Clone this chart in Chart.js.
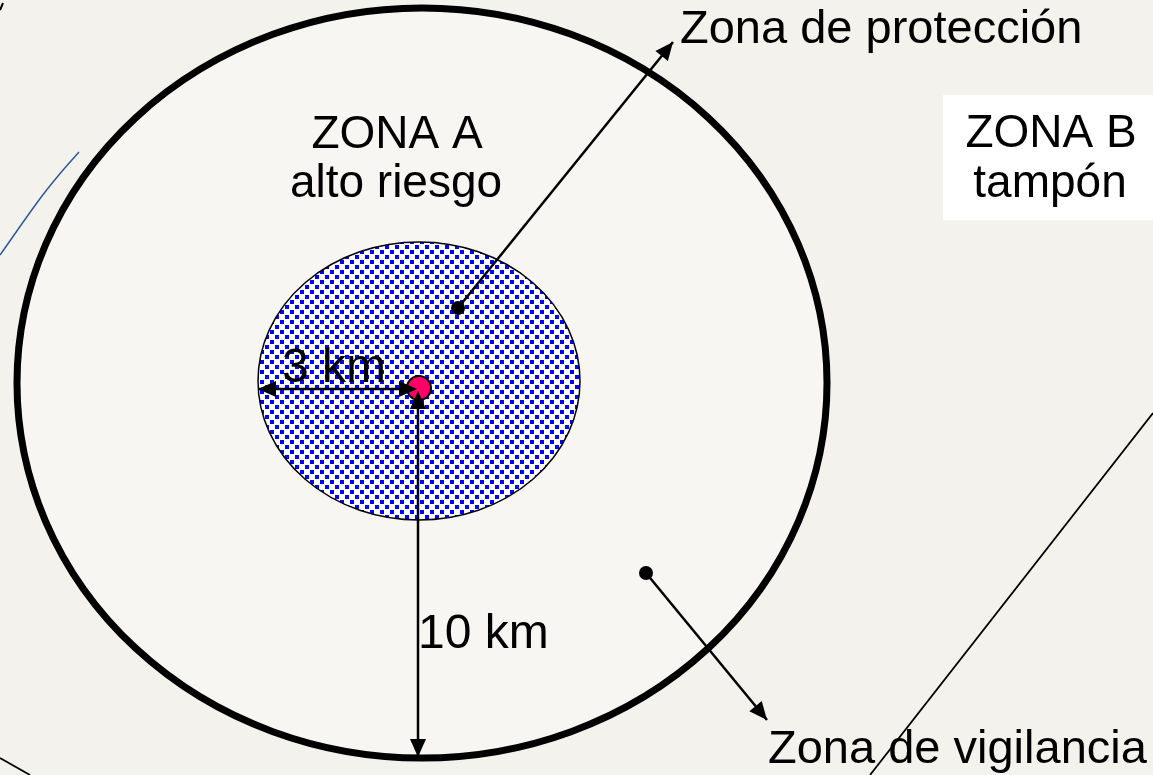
<!DOCTYPE html>
<html>
<head>
<meta charset="utf-8">
<script src="https://cdn.jsdelivr.net/npm/chart.js@4.4.1/dist/chart.umd.min.js"></script>
<style>
html,body{margin:0;padding:0;background:#f4f2ed;}
canvas{display:block;}
</style>
</head>
<body>
<canvas id="c" width="1153" height="775"></canvas>
<script>
// ---- data (diagram coordinates, y grows downward) ----
const zoneNames   = ['Zona de vigilancia', 'Zona de protección'];
const zoneCenterX = [422, 419];
const zoneCenterY = [383, 381];
const zoneRadiusX = [405, 161];
const zoneRadiusY = [375, 139];

const focusPoint  = [{x: 419, y: 388}];                 // foco (punto rojo)
const markerDots  = [{x: 458, y: 308}, {x: 646, y: 573}];

const arrowNames  = ['protección', 'vigilancia', '3 km', '10 km'];
const arrowFromX  = [458, 646, 417, 418];
const arrowFromY  = [308, 573, 389, 391];
const arrowToX    = [673, 767, 258, 418];
const arrowToY    = [42, 720, 389, 757];
const arrowBoth   = [false, false, true, true];

const guideLineA  = [{x: 870, y: 775}, {x: 1153, y: 413}];
const guideLineB  = [{x: 0, y: 758}, {x: 30, y: 775}];
const guideLineC  = [{x: 0, y: 10}, {x: 3, y: 3}];
const blueCurve   = [{x: 79, y: 152}, {x: 58, y: 176}, {x: 39, y: 200}, {x: 0, y: 255}];

const labelTexts  = ['Zona de protección', 'ZONA A', 'alto riesgo', 'ZONA B', 'tampón', '3 km', '10 km', 'Zona de vigilancia'];
const labelX      = [680, 397, 396, 1051, 1050, 282, 418, 768];
const labelY      = [43, 148, 197, 147, 197, 382, 648, 763];
const labelAlign  = ['left', 'center', 'center', 'center', 'center', 'left', 'left', 'left'];
const labelSize   = [47, 46, 46, 46, 46, 48, 48, 47];

// ---- chart ----
function makePattern(ctx){
  const t = document.createElement('canvas');
  t.width = 10; t.height = 10;
  const g = t.getContext('2d');
  g.fillStyle = '#ffffff'; g.fillRect(0,0,10,10);
  g.fillStyle = '#0000ff';
  g.fillRect(0,0,4,4);
  g.fillRect(5,5,4,4);
  return ctx.createPattern(t, 'repeat');
}

const arrowDatasets = arrowNames.map((n,i)=>({
  label: n,
  data: [{x: arrowFromX[i], y: arrowFromY[i]}, {x: arrowToX[i], y: arrowToY[i]}],
  showLine: true, borderColor: '#000', borderWidth: 2.5, pointRadius: 0, order: 5
}));

const diagram = {
  id: 'diagram',
  beforeDraw(chart){
    const c = chart.ctx;
    c.save(); c.fillStyle = '#f4f2ed'; c.fillRect(0,0,chart.width,chart.height); c.restore();
  },
  beforeDatasetsDraw(chart){
    const c = chart.ctx, xs = chart.scales.x, ys = chart.scales.y;
    c.save();
    // white box behind ZONA B
    c.fillStyle = '#ffffff';
    c.fillRect(xs.getPixelForValue(943), ys.getPixelForValue(95),
               xs.getPixelForValue(1153) - xs.getPixelForValue(943),
               ys.getPixelForValue(220) - ys.getPixelForValue(95));
    zoneNames.forEach((n,i)=>{
      const cx = xs.getPixelForValue(zoneCenterX[i]);
      const cy = ys.getPixelForValue(zoneCenterY[i]);
      const rx = Math.abs(xs.getPixelForValue(zoneCenterX[i] + zoneRadiusX[i]) - cx);
      const ry = Math.abs(ys.getPixelForValue(zoneCenterY[i] + zoneRadiusY[i]) - cy);
      c.beginPath();
      c.ellipse(cx, cy, rx, ry, 0, 0, Math.PI*2);
      if (i === 0) {
        c.fillStyle = '#f7f6f2'; c.fill();
        c.lineWidth = 7; c.strokeStyle = '#000'; c.stroke();
      } else {
        c.fillStyle = makePattern(c); c.fill();
        c.lineWidth = 1.5; c.strokeStyle = '#000'; c.stroke();
      }
    });
    c.restore();
  },
  afterDatasetsDraw(chart){
    const c = chart.ctx, xs = chart.scales.x, ys = chart.scales.y;
    c.save();
    c.fillStyle = '#000';
    const head = (fx,fy,tx,ty)=>{
      const a = Math.atan2(ty-fy, tx-fx), L = 18, W = 8;
      c.beginPath();
      c.moveTo(tx, ty);
      c.lineTo(tx - L*Math.cos(a) + W*Math.sin(a), ty - L*Math.sin(a) - W*Math.cos(a));
      c.lineTo(tx - L*Math.cos(a) - W*Math.sin(a), ty - L*Math.sin(a) + W*Math.cos(a));
      c.closePath(); c.fill();
    };
    arrowNames.forEach((n,i)=>{
      const fx = xs.getPixelForValue(arrowFromX[i]), fy = ys.getPixelForValue(arrowFromY[i]);
      const tx = xs.getPixelForValue(arrowToX[i]),   ty = ys.getPixelForValue(arrowToY[i]);
      head(fx,fy,tx,ty);
      if (arrowBoth[i]) head(tx,ty,fx,fy);
    });
    c.textBaseline = 'alphabetic';
    labelTexts.forEach((t,i)=>{
      c.font = labelSize[i] + 'px "Liberation Sans", Arial, sans-serif';
      c.textAlign = labelAlign[i];
      c.fillStyle = '#000';
      c.fillText(t, xs.getPixelForValue(labelX[i]), ys.getPixelForValue(labelY[i]));
    });
    c.restore();
  }
};

new Chart(document.getElementById('c'), {
  type: 'scatter',
  data: {
    datasets: [
      {label: 'foco', data: focusPoint, pointRadius: 12, pointBackgroundColor: '#ff0066',
       pointBorderColor: '#000', pointBorderWidth: 2, order: 2},
      {label: 'puntos', data: markerDots, pointRadius: 7, pointBackgroundColor: '#000',
       pointBorderColor: '#000', pointBorderWidth: 0, order: 1},
      ...arrowDatasets,
      {label: 'guíaA', data: guideLineA, showLine: true, borderColor: '#000', borderWidth: 1.8, pointRadius: 0, order: 6},
      {label: 'guíaB', data: guideLineB, showLine: true, borderColor: '#000', borderWidth: 1.8, pointRadius: 0, order: 6},
      {label: 'guíaC', data: guideLineC, showLine: true, borderColor: '#000', borderWidth: 2, pointRadius: 0, order: 6},
      {label: 'curva', data: blueCurve, showLine: true, borderColor: '#2e5a94', borderWidth: 1.5,
       tension: 0.4, pointRadius: 0, order: 6}
    ]
  },
  options: {
    responsive: false,
    animation: false,
    events: [],
    layout: {padding: 0, autoPadding: false},
    plugins: {legend: {display: false}, tooltip: {enabled: false}},
    scales: {
      x: {type: 'linear', min: 0, max: 1153, display: false},
      y: {type: 'linear', min: 0, max: 775, reverse: true, display: false}
    }
  },
  plugins: [diagram]
});
</script>
</body>
</html>
